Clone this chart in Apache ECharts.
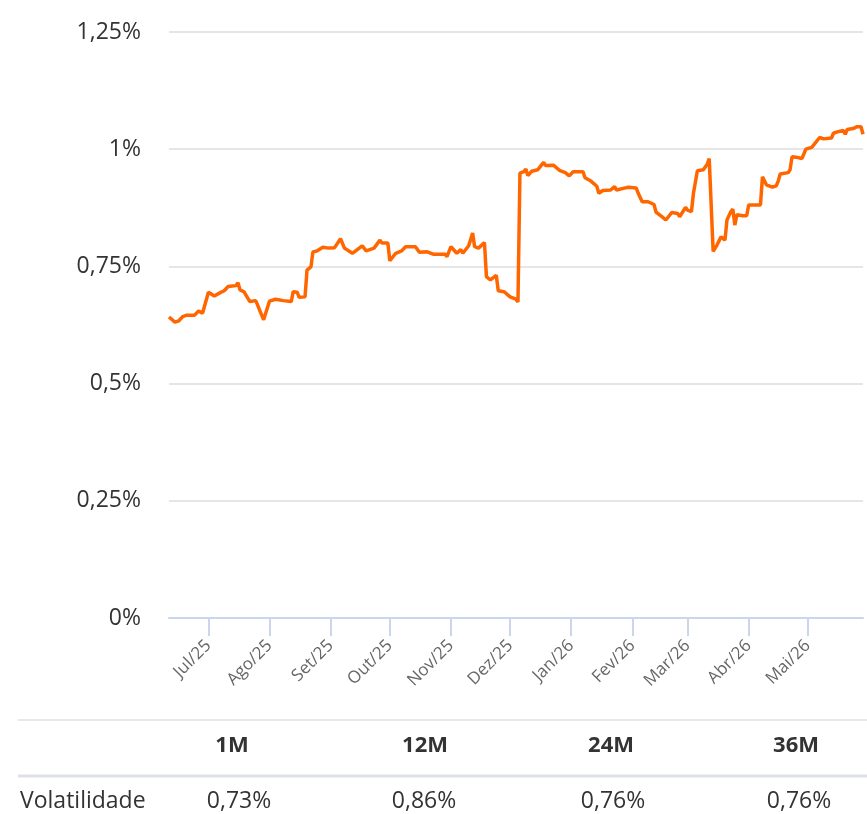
<!DOCTYPE html>
<html>
<head>
<meta charset="utf-8">
<script src="https://cdn.jsdelivr.net/npm/echarts@6/dist/echarts.min.js"></script>
<style>
  body { margin: 0; background: #fff; }
  #vol { width: 867px; height: 814px; }
</style>
</head>
<body>
<div id="vol"></div>
<script>
// daily volatility, in %
var dates = [
  '2025-06-11', '2025-06-14', '2025-06-16', '2025-06-18', '2025-06-20', '2025-06-24', '2025-06-26', '2025-06-28',
  '2025-07-01', '2025-07-02', '2025-07-04', '2025-07-07', '2025-07-09', '2025-07-11', '2025-07-13', '2025-07-15',
  '2025-07-16', '2025-07-17', '2025-07-19', '2025-07-22', '2025-07-25', '2025-07-26', '2025-07-29', '2025-07-30',
  '2025-08-01', '2025-08-04', '2025-08-08', '2025-08-12', '2025-08-13', '2025-08-15', '2025-08-16', '2025-08-19',
  '2025-08-20', '2025-08-22', '2025-08-23', '2025-08-25', '2025-08-28', '2025-08-31',
  '2025-09-03', '2025-09-04', '2025-09-06', '2025-09-08', '2025-09-12', '2025-09-17', '2025-09-19', '2025-09-23',
  '2025-09-26', '2025-09-27', '2025-09-30',
  '2025-10-01', '2025-10-02', '2025-10-04', '2025-10-07', '2025-10-09', '2025-10-10', '2025-10-14', '2025-10-16',
  '2025-10-20', '2025-10-23', '2025-10-26', '2025-10-29', '2025-10-30',
  '2025-11-01', '2025-11-04', '2025-11-06', '2025-11-07', '2025-11-10', '2025-11-12', '2025-11-13', '2025-11-15',
  '2025-11-18', '2025-11-19', '2025-11-21', '2025-11-24', '2025-11-25', '2025-11-28',
  '2025-12-01', '2025-12-04', '2025-12-05', '2025-12-06', '2025-12-08', '2025-12-09', '2025-12-10', '2025-12-12',
  '2025-12-15', '2025-12-16', '2025-12-18', '2025-12-19', '2025-12-23', '2025-12-26', '2025-12-29', '2025-12-31',
  '2026-01-02', '2026-01-07', '2026-01-08', '2026-01-11', '2026-01-14', '2026-01-15', '2026-01-17', '2026-01-21',
  '2026-01-23', '2026-01-24', '2026-01-28', '2026-01-30',
  '2026-02-03', '2026-02-04', '2026-02-06', '2026-02-09', '2026-02-12', '2026-02-13', '2026-02-16', '2026-02-18',
  '2026-02-21', '2026-02-24', '2026-02-25', '2026-02-26', '2026-02-28',
  '2026-03-01', '2026-03-03', '2026-03-04', '2026-03-05', '2026-03-06', '2026-03-09', '2026-03-11', '2026-03-12',
  '2026-03-13', '2026-03-14', '2026-03-16', '2026-03-18', '2026-03-20', '2026-03-21', '2026-03-23', '2026-03-24',
  '2026-03-25', '2026-03-26', '2026-03-29', '2026-03-31',
  '2026-04-01', '2026-04-07', '2026-04-08', '2026-04-10', '2026-04-13', '2026-04-15', '2026-04-16', '2026-04-17',
  '2026-04-21', '2026-04-22', '2026-04-23', '2026-04-25', '2026-04-28', '2026-04-30',
  '2026-05-03', '2026-05-04', '2026-05-07', '2026-05-09', '2026-05-13', '2026-05-14', '2026-05-16', '2026-05-19',
  '2026-05-20', '2026-05-21', '2026-05-24', '2026-05-26', '2026-05-28', '2026-05-29'
];
var values = [
  0.642, 0.631, 0.634, 0.643, 0.646, 0.646, 0.655, 0.650,
  0.695, 0.695, 0.687, 0.694, 0.698, 0.707, 0.708, 0.709,
  0.715, 0.700, 0.696, 0.675, 0.677, 0.675, 0.636, 0.632,
  0.676, 0.680, 0.677, 0.675, 0.696, 0.695, 0.684, 0.685,
  0.742, 0.749, 0.781, 0.783, 0.791, 0.789,
  0.790, 0.794, 0.809, 0.789, 0.778, 0.794, 0.783, 0.789,
  0.806, 0.800, 0.800,
  0.762, 0.764, 0.778, 0.783, 0.792, 0.789, 0.792, 0.780,
  0.781, 0.776, 0.776, 0.776, 0.771,
  0.792, 0.778, 0.786, 0.778, 0.794, 0.821, 0.792, 0.789,
  0.801, 0.728, 0.721, 0.731, 0.698, 0.696,
  0.685, 0.680, 0.674, 0.949, 0.952, 0.958, 0.944, 0.953,
  0.956, 0.956, 0.972, 0.965, 0.966, 0.955, 0.950, 0.943,
  0.952, 0.952, 0.939, 0.932, 0.921, 0.906, 0.912, 0.913,
  0.920, 0.913, 0.917, 0.919,
  0.917, 0.906, 0.888, 0.888, 0.882, 0.866, 0.856, 0.849,
  0.865, 0.863, 0.856, 0.857, 0.876,
  0.870, 0.867, 0.906, 0.909, 0.954, 0.956, 0.968, 0.980,
  0.980, 0.782, 0.796, 0.813, 0.806, 0.849, 0.867, 0.872,
  0.838, 0.860, 0.858, 0.858,
  0.881, 0.881, 0.941, 0.924, 0.919, 0.922, 0.932, 0.947,
  0.950, 0.956, 0.984, 0.983, 0.980, 1.000,
  1.004, 1.006, 1.025, 1.022, 1.024, 1.034, 1.037, 1.040,
  1.032, 1.042, 1.044, 1.048, 1.048, 1.032
];

// x axis labels: one per month
var monthNames = ['Jan', 'Fev', 'Mar', 'Abr', 'Mai', 'Jun', 'Jul', 'Ago', 'Set', 'Out', 'Nov', 'Dez'];
var yTicks = [0, 0.25, 0.5, 0.75, 1, 1.25];

// table under the chart
var periods = ['1M', '12M', '24M', '36M'];
var volatility = ['0,73%', '0,86%', '0,76%', '0,76%'];
var rowLabel = 'Volatilidade';

function ts(s) {
  var p = s.split('-');
  return new Date(+p[0], +p[1] - 1, +p[2]).getTime();
}

var DAY = 24 * 3600 * 1000;
var font = '"Open Sans", "Noto Sans", sans-serif';
var headX = [232, 425, 611, 796];
var cellX = [239, 424, 613, 799];

var graphic = [
  { type: 'line', shape: { x1: 18, y1: 720, x2: 867, y2: 720 }, style: { stroke: '#dde1e6', lineWidth: 1.5 } },
  { type: 'line', shape: { x1: 18, y1: 776, x2: 867, y2: 776 }, style: { stroke: '#dde1e6', lineWidth: 3 } },
  {
    type: 'text', x: 20, y: 801,
    style: { text: rowLabel, font: '23px ' + font, fill: '#333', verticalAlign: 'middle' }
  }
];
periods.forEach(function (p, i) {
  graphic.push({
    type: 'text', x: headX[i], y: 746,
    style: { text: p, font: 'bold 22px ' + font, fill: '#333', align: 'center', verticalAlign: 'middle' }
  });
  graphic.push({
    type: 'text', x: cellX[i], y: 801,
    style: { text: volatility[i], font: '23px ' + font, fill: '#333', align: 'center', verticalAlign: 'middle' }
  });
});

var chart = echarts.init(document.getElementById('vol'));
var option = {
  animation: false,
  grid: { left: 169, right: 4, top: 32, bottom: 196 },
  xAxis: {
    type: 'time',
    min: ts(dates[0]),
    max: ts(dates[dates.length - 1]),
    minInterval: 28 * DAY,
    maxInterval: 31 * DAY,
    axisLine: { lineStyle: { color: '#ccd6eb', width: 2 } },
    axisTick: {
      show: true,
      length: 18,
      lineStyle: { color: '#ccd6eb', width: 2 }
    },
    axisLabel: {
      rotate: 45,
      margin: 25,
      color: '#666',
      fontSize: 17,
      fontFamily: font,
      showMinLabel: false,
      showMaxLabel: false,
      formatter: function (v) {
        var d = new Date(v);
        return monthNames[d.getMonth()] + '/' + String(d.getFullYear()).slice(2);
      }
    },
    splitLine: { show: false }
  },
  yAxis: {
    type: 'value',
    min: yTicks[0],
    max: yTicks[yTicks.length - 1],
    interval: 0.25,
    axisLine: { show: false },
    axisTick: { show: false },
    axisLabel: {
      margin: 28,
      color: '#333',
      fontSize: 23,
      fontFamily: font,
      formatter: function (v) {
        return String(v).replace('.', ',') + '%';
      }
    },
    splitLine: { lineStyle: { color: '#e6e6e6', width: 2 } }
  },
  series: [
    {
      name: 'Volatilidade',
      type: 'line',
      data: dates.map(function (d, i) { return [ts(d), values[i]]; }),
      showSymbol: false,
      lineStyle: { color: '#ff6600', width: 3.5 },
      itemStyle: { color: '#ff6600' }
    }
  ],
  graphic: graphic
};
chart.setOption(option);
</script>
</body>
</html>
